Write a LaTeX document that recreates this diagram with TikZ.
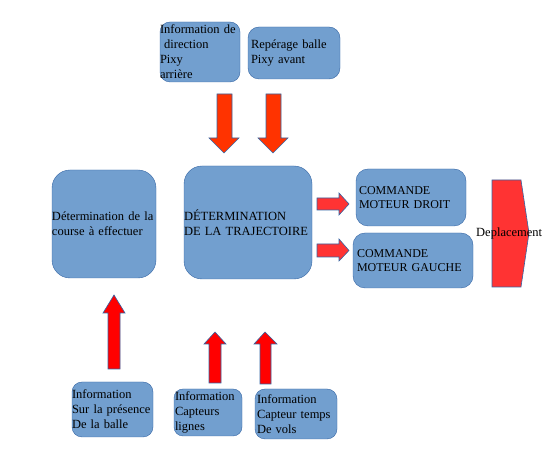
\documentclass[tikz,border=0pt]{standalone}
\usepackage{fontspec}
\setmainfont{Liberation Serif}
\usepackage{tikz}

\definecolor{fondbleu}{HTML}{729FCF}
\definecolor{bordbleu}{HTML}{3465A4}
\definecolor{rougeorange}{HTML}{FF3300}
\definecolor{rougeclair}{HTML}{FF3333}

\begin{document}
\begin{tikzpicture}[x=1pt, y=-1pt,
  bloc/.style={draw=bordbleu, fill=fondbleu, rounded corners=10pt, align=left,
    inner ysep=0pt, font=\fontsize{12.5}{15}\selectfont},
  fleche/.style={draw=bordbleu, line width=0.6pt, line join=miter}]
\useasboundingbox (0,0) rectangle (547,473);

% blocs du haut
\node [bloc, minimum width=80, minimum height=60, inner xsep=0pt, text width=80]
  (infoDir) at (200,52) {Information de\\ \ direction\\Pixy\\arrière};
\node [bloc, rounded corners=11pt, minimum width=92, minimum height=52, inner xsep=3pt, text width=86]
  (reperage) at (294,53) {Repérage balle\\Pixy avant};

  % fleches vers le bas
\draw [fleche, fill=rougeorange] (217,94)--(232,94)--(232,138)--(239,138)--(224,153)--(209,138)--(217,138)--cycle;
\draw [fleche, fill=rougeorange] (266,94)--(281,94)--(281,138)--(288,138)--(273,153)--(258,138)--(266,138)--cycle;

% blocs du milieu
\node [bloc, rounded corners=18pt, minimum width=104, minimum height=108, inner xsep=0pt, text width=104]
  (course) at (104,224) {Détermination de la\\course à effectuer};
\node [bloc, rounded corners=18pt, minimum width=128, minimum height=113, inner xsep=0pt, text width=128]
  (trajet) at (248,222.5) {DÉTERMINATION\\DE LA TRAJECTOIRE};

  % fleches vers les moteurs
\draw [fleche, fill=rougeclair] (317,198)--(339,198)--(339,193)--(349,204)--(339,215)--(339,210)--(317,210)--cycle;
\draw [fleche, fill=rougeclair] (317,244)--(339,244)--(339,239)--(349,250.5)--(339,261)--(339,257)--(317,257)--cycle;

\node [bloc, rounded corners=12pt, minimum width=110, minimum height=57, inner xsep=3pt,
  text width=104, font=\fontsize{12}{13.5}\selectfont]
  (cmdDroit) at (411,197.5) {COMMANDE\\MOTEUR DROIT};
\node [bloc, rounded corners=12pt, minimum width=120, minimum height=55, inner xsep=4pt,
  text width=112, font=\fontsize{12}{14}\selectfont]
  (cmdGauche) at (413,260.5) {COMMANDE\\MOTEUR~GAUCHE};

% deplacement
\draw [fleche, fill=rougeclair] (492,180)--(521,180)--(529,233)--(521,287)--(492,287)--cycle;
\node [font=\fontsize{12.5}{15}\selectfont, inner sep=0pt, anchor=west] (deplacement) at (476,233) {Deplacement};

% fleches vers le haut
\draw [fleche, fill=red] (108,369)--(120,369)--(120,313)--(125,313)--(114,295)--(103,313)--(108,313)--cycle;
\draw [fleche, fill=red] (209,383)--(221,383)--(221,344)--(226,344)--(215,332)--(204,344)--(209,344)--cycle;
\draw [fleche, fill=red] (260,384)--(271,384)--(271,344)--(277,344)--(265,332)--(254,344)--(260,344)--cycle;

% blocs du bas
\node [bloc, minimum width=81, minimum height=55, inner xsep=0pt, text width=81]
  (presence) at (112.5,409.5) {Information\\Sur la présence\\De la balle};
\node [bloc, rounded corners=9pt, minimum width=68, minimum height=47, inner xsep=1pt, text width=66]
  (lignes) at (208,412.5) {Information\\Capteurs\\lignes};
\node [bloc, minimum width=82, minimum height=50, inner xsep=2pt, text width=78]
  (vols) at (296,414) {Information\\Capteur temps\\De vols};

\end{tikzpicture}
\end{document}
